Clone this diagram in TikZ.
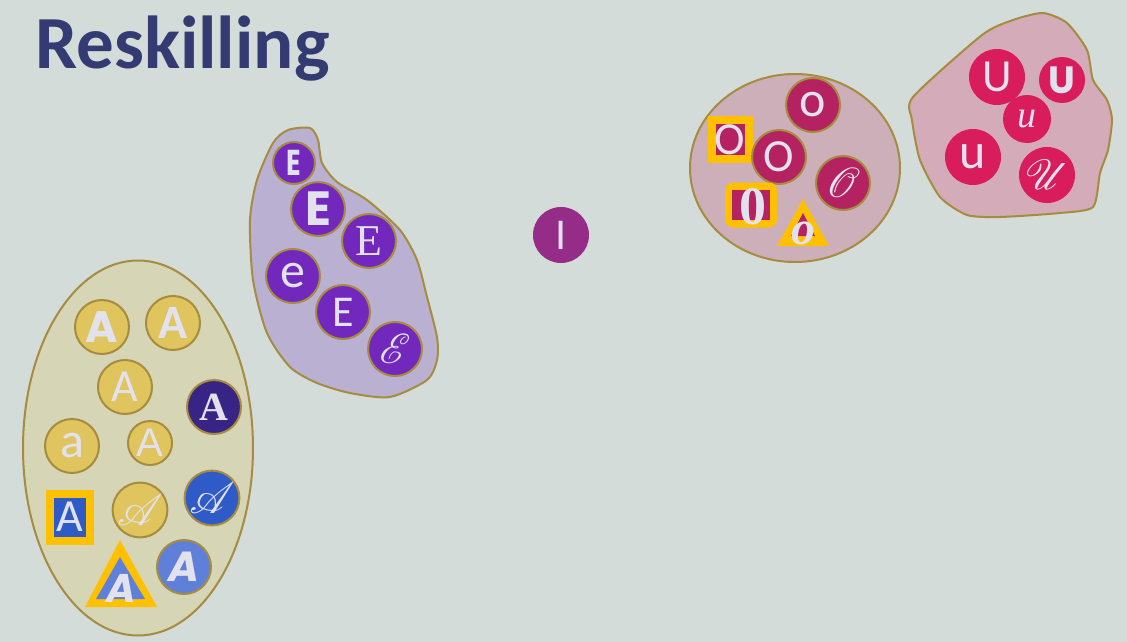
\documentclass[tikz,border=0pt]{standalone}
\usepackage{fontspec}
\usepackage{graphicx}
\usepackage{mathrsfs}
\setmainfont{Carlito}
\newfontfamily\serifface{Liberation Serif}
\newfontfamily\heavyface{Poppins}
\usetikzlibrary{shapes.geometric}

\definecolor{slate}{HTML}{D3DCD8}
\definecolor{titleblue}{HTML}{333B72}
\definecolor{rim}{HTML}{A68C3E}
\definecolor{letter}{HTML}{E2E2EE}
\definecolor{sand}{HTML}{D6D5B6}
\definecolor{mustard}{HTML}{E0C45E}
\definecolor{indigo}{HTML}{382485}
\definecolor{royal}{HTML}{2E5BC8}
\definecolor{sky}{HTML}{5F80D9}
\definecolor{amber}{HTML}{FFC000}
\definecolor{lavender}{HTML}{BAB0D2}
\definecolor{violetE}{HTML}{7228BC}
\definecolor{plum}{HTML}{952C88}
\definecolor{blush}{HTML}{CDAFBA}
\definecolor{crimson}{HTML}{B52262}
\definecolor{rosewash}{HTML}{D4ABB8}
\definecolor{rose}{HTML}{D81C5C}

\newcommand{\scriptglyph}[2]{\fontsize{10}{10}\selectfont\scalebox{#1}{$\mathscr{#2}$}}

\begin{document}
\begin{tikzpicture}[x=1pt,y=-1pt]
\tikzstyle{dot} = [circle, inner sep=0pt, minimum size=54pt, text=letter, font=\fontsize{46}{46}\selectfont]
\tikzstyle{rimmed} = [dot, draw=rim, line width=2pt]
\tikzstyle{cluster} = [draw=rim, line width=2pt]
\tikzstyle{glyph} = [inner sep=0pt, text=letter, font=\fontsize{46}{46}\selectfont]

% background and frame
\fill[slate] (0,0) rectangle (1127,642);
\useasboundingbox (0,0) rectangle (1127,642);

\node (title) [anchor=base west, text=titleblue, font=\fontsize{75}{75}\selectfont\bfseries, inner sep=0pt] at (35,68) {Reskilling};

% A group
\node (groupA) [cluster, fill=sand, ellipse, minimum width=230pt, minimum height=375pt] at (138,448) {};
\node (aHeavy) [rimmed, fill=mustard, font=\fontsize{44}{44}\selectfont\heavyface\bfseries] at (102,327) {A};
\node (aBold) [rimmed, fill=mustard, font=\fontsize{48}{48}\selectfont\bfseries] at (173,323) {A};
\node (aPlain) [rimmed, fill=mustard] at (125,387) {A};
\node (aDeco) [rimmed, fill=indigo, font=\fontsize{40}{40}\selectfont\serifface\bfseries] at (214,407) {A};
\node (aLower) [rimmed, fill=mustard, font=\fontsize{50}{50}\selectfont] at (72,446) {a};
\node (aThin) [rimmed, fill=mustard, minimum size=44pt] at (150,443) {};
\node (aThinTxt) [glyph, font=\fontsize{40}{40}\selectfont\fontspec{Liberation Sans}] at (150,443) {A};
\node (aScript) [rimmed, fill=mustard] at (140,510) {\scriptglyph{4.4}{A}};
\node (aScriptBlue) [rimmed, fill=royal] at (212,498) {\scriptglyph{4.4}{A}};
\node (aBrush) [rimmed, fill=sky, font=\fontsize{42}{42}\selectfont\heavyface\bfseries\itshape] at (184,567) {A};

\node (aBox) [fill=amber, minimum width=48pt, minimum height=55pt, inner sep=0pt] at (70,517) {};
\node (aBoxIn) [fill=royal, minimum width=32pt, minimum height=39pt, inner sep=0pt] at (70,517) {};
\node (aBoxTxt) [glyph] at (70,517) {A};

\fill[amber] (120,540) -- (157,607) -- (85,607) -- cycle;
\fill[sky] (120,557) -- (145,599) -- (96,599) -- cycle;
\node (aTri) [glyph, font=\fontsize{40}{40}\selectfont\heavyface\bfseries\itshape] at (121,588) {A};

% E group
\draw[cluster, fill=lavender] plot[smooth cycle, tension=0.45] coordinates {
  (288,130) (310,128) (318,140) (322,163) (337,182) (367,200) (400,230)
  (417,260) (427,297) (437,337) (437,360) (427,380) (390,397) (350,393)
  (317,383) (290,367) (267,333) (253,280) (250,220) (257,180) (273,143)};
\node (eNarrow) [rimmed, fill=violetE, minimum size=42pt, font=\fontsize{36}{36}\selectfont\heavyface\bfseries] at (294,163) {\addfontfeature{FakeStretch=0.75}E};
\node (eBold) [rimmed, fill=violetE, font=\fontsize{48}{48}\selectfont\heavyface\bfseries] at (318,209) {E};
\node (eSerif) [rimmed, fill=violetE, font=\fontsize{44}{44}\selectfont\serifface] at (369,241) {E};
\node (eLower) [rimmed, fill=violetE, font=\fontsize{50}{50}\selectfont] at (293,276) {e};
\node (ePlain) [rimmed, fill=violetE, font=\fontsize{44}{44}\selectfont] at (343,312) {E};
\node (eScript) [rimmed, fill=violetE] at (395,349) {\scriptglyph{4.2}{E}};

% I
\node (iDot) [dot, fill=plum, minimum size=56pt, font=\fontsize{44}{44}\selectfont] at (561,235) {I};

% O group
\node (groupO) [cluster, fill=blush, ellipse, minimum width=210pt, minimum height=188pt] at (795,168) {};
\node (oSmall) [rimmed, fill=crimson, font=\fontsize{50}{50}\selectfont] at (813,105) {o};
\node (oBox) [fill=amber, minimum width=45pt, minimum height=47pt, inner sep=0pt] at (730,139) {};
\node (oBoxIn) [fill=crimson, minimum width=29pt, minimum height=31pt, inner sep=0pt] at (730,139) {};
\node (oBoxTxt) [glyph, font=\fontsize{46}{46}\selectfont] at (730,140) {O};
\node (oPlain) [rimmed, fill=crimson] at (779,157) {O};
\node (oDeco) [rimmed, fill=crimson] at (843,183) {\scriptglyph{4.2}{O}};
\node (oRound) [fill=amber, rounded corners=8pt, minimum width=52pt, minimum height=45pt, inner sep=0pt] at (751,205) {};
\node (oRoundIn) [fill=crimson, minimum width=38pt, minimum height=30pt, inner sep=0pt] at (751,205) {};
\node (oRoundTxt) [glyph, font=\fontsize{54}{54}\selectfont\serifface\bfseries] at (753,207) {0};
\fill[amber] (803,199) -- (829,246) -- (777,246) -- cycle;
\fill[crimson] (803,213) -- (815,236) -- (791,236) -- cycle;
\node (oTri) [glyph, font=\fontsize{48}{48}\selectfont\serifface\bfseries\itshape] at (803,233) {o};

% U group
\draw[cluster, fill=rosewash] plot[smooth cycle, tension=0.4] coordinates {
  (913,97) (982,35) (1013,20) (1043,13) (1067,23) (1087,50) (1093,80)
  (1107,100) (1112,120) (1108,150) (1100,173) (1093,207) (1060,213)
  (1000,217) (967,215) (940,197) (920,160) (912,120)};
\node (uPlain) [dot, fill=rose, minimum size=56pt, font=\fontsize{46}{46}\selectfont] at (997,77) {U};
\node (uBold) [dot, fill=rose, minimum size=46pt, font=\fontsize{38}{38}\selectfont\heavyface\bfseries] at (1062,80) {U};
\node (uHand) [dot, fill=rose, minimum size=48pt, font=\fontsize{38}{38}\selectfont\serifface\itshape] at (1027,119) {u};
\node (uLower) [dot, fill=rose, minimum size=56pt, font=\fontsize{50}{50}\selectfont] at (973,157) {u};
\node (uScript) [dot, fill=rose, minimum size=56pt] at (1047,175) {\scriptglyph{4.2}{U}};
\end{tikzpicture}
\end{document}
